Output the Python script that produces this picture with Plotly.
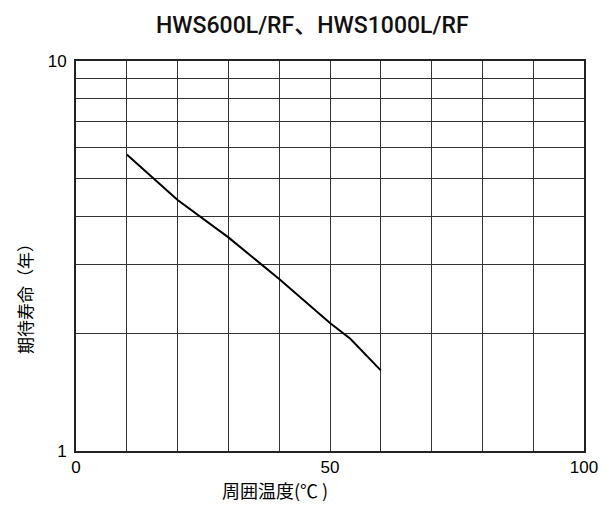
import plotly.graph_objects as go

temp_c = [10, 20, 30, 40, 50, 54, 60]
life_years = [5.76, 4.40, 3.53, 2.76, 2.13, 1.94, 1.61]

x_grid = list(range(0, 101, 10))
x_labels = ["0", "", "", "", "", "50", "", "", "", "", "100"]
y_grid = [1, 2, 3, 4, 5, 6, 7, 8, 9, 10]
y_labels = ["1", "", "", "", "", "", "", "", "", "10"]

title_text = "HWS600L/RF、HWS1000L/RF"
x_title = "周囲温度(℃ )"
y_title = "期待寿命（年）"

font_fam = "Liberation Sans, Arial, Noto Sans CJK JP, sans-serif"
title_fam = "Roboto, Noto Sans CJK JP, sans-serif"
cjk_fam = "Noto Sans CJK JP, sans-serif"

# page body has an 8px margin; figure sized to fit the 608x511 window
W, H = 600, 503
L, R, T, B = 68, 24, 53, 60
pw, ph = W - L - R, H - T - B


def px(fx):
    return (fx - L) / pw


def py(fy):
    return (H - B - fy) / ph


fig = go.Figure()
fig.add_trace(go.Scatter(x=temp_c, y=life_years, mode="lines",
                         line=dict(color="black", width=2), showlegend=False))

fig.update_layout(
    width=W, height=H,
    margin=dict(l=L, r=R, t=T, b=B),
    paper_bgcolor="white", plot_bgcolor="white",
    annotations=[
        dict(text=title_text, xref="paper", yref="paper", x=px(304), y=py(17),
             xanchor="center", yanchor="middle", showarrow=False,
             font=dict(family=title_fam, size=23, color="#111", weight=500)),
        dict(text=x_title, xref="paper", yref="paper", x=px(267), y=py(482),
             xanchor="center", yanchor="middle", showarrow=False,
             font=dict(family=cjk_fam, size=18, color="black")),
        dict(text=y_title, xref="paper", yref="paper", x=px(16), y=py(287),
             xanchor="center", yanchor="middle", showarrow=False, textangle=-90,
             font=dict(family=cjk_fam, size=17, color="black")),
    ],
)
fig.update_xaxes(
    range=[0, 100], tickmode="array", tickvals=x_grid, ticktext=x_labels,
    showgrid=True, gridcolor="#333", gridwidth=1.4,
    showline=True, linecolor="#222", linewidth=2, mirror=True,
    ticks="", tickfont=dict(family=font_fam, size=17, color="black"),
    zeroline=False, automargin=False,
)
fig.update_yaxes(
    type="log", range=[0, 1], tickmode="array", tickvals=y_grid, ticktext=y_labels,
    showgrid=True, gridcolor="#333", gridwidth=1.4,
    showline=True, linecolor="#222", linewidth=2, mirror=True,
    ticks="", tickfont=dict(family=font_fam, size=17, color="black"),
    ticklabelstandoff=4,
    zeroline=False, automargin=False,
)

fig.write_html("out.html")
